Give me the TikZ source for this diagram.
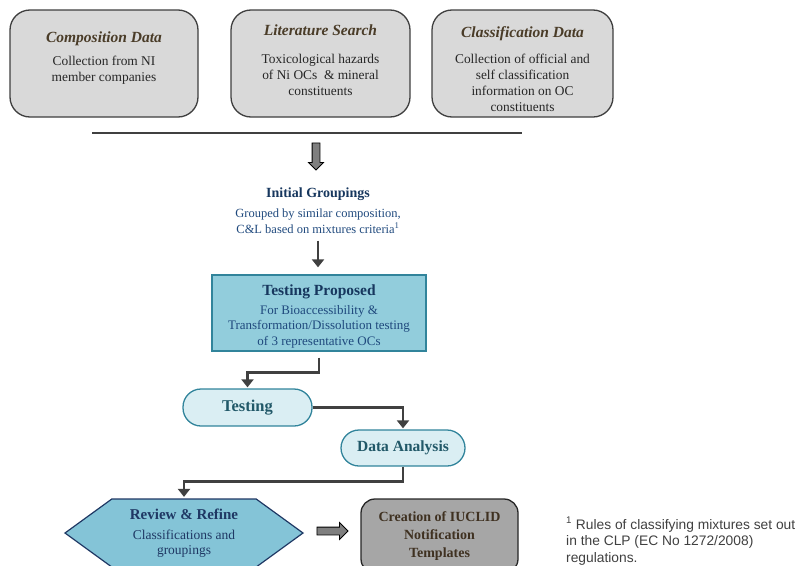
\documentclass[tikz,border=0pt]{standalone}
\usepackage{fontspec}
\setmainfont{Liberation Serif}
\newfontfamily\notefont{Liberation Sans}
\usepackage{xcolor}
\usetikzlibrary{positioning,shapes.arrows,shapes.symbols,arrows.meta}

\definecolor{boxgray}{HTML}{D9D9D9}
\definecolor{boxline}{HTML}{3F3F3F}
\definecolor{titlebrown}{HTML}{4A3C28}
\definecolor{bodydark}{HTML}{262626}
\definecolor{navytext}{HTML}{17375E}
\definecolor{bluetext}{HTML}{1F497D}
\definecolor{tpfill}{HTML}{92CDDC}
\definecolor{tealline}{HTML}{31849B}
\definecolor{stadfill}{HTML}{DAEEF3}
\definecolor{tealtext}{HTML}{215868}
\definecolor{hexfill}{HTML}{84C4D7}
\definecolor{hexline}{HTML}{1F3864}
\definecolor{createfill}{HTML}{A6A6A6}
\definecolor{createtext}{HTML}{3F3121}
\definecolor{flowgray}{HTML}{404040}
\definecolor{arrowgray}{HTML}{7F7F7F}

\newcommand{\boxtitle}[1]{{\fontsize{15.5}{16}\selectfont\bfseries\itshape\color{titlebrown}#1}}

\begin{document}
\begin{tikzpicture}[x=1pt,y=-1pt,
    graybox/.style={draw=boxline,line width=1.3pt,fill=boxgray,rounded corners=20pt,minimum height=107pt},
    boxtext/.style={align=center,text=bodydark,inner sep=0pt,font=\fontsize{13.4}{16}\selectfont},
    blockarrow/.style={single arrow,draw=black,line width=0.8pt,fill=arrowgray,inner sep=3.5pt},
    flowline/.style={draw=flowgray,line width=2.4pt,-{Triangle[width=12pt,length=8pt]}},
    stadium/.style={draw=tealline,line width=1.3pt,fill=stadfill,rounded corners=18pt,text=tealtext,font=\bfseries\fontsize{15.5}{16}\selectfont},
    ]
  \useasboundingbox (0,0) rectangle (799,565);
  \clip (0,0) rectangle (799,565);

  % sources
  \node[graybox,minimum width=188pt] (comp) at (104,63.5) {};
  \node[boxtext,below=22pt of comp.north] (comptxt) {\boxtitle{Composition Data}\\[7pt] Collection from NI\\ member companies};
  \node[graybox,minimum width=179pt] (lit) at (320.5,63.5) {};
  \node[boxtext,below=15pt of lit.north] (littxt) {\boxtitle{Literature Search}\\[12pt] Toxicological hazards\\ of Ni OCs \ \& mineral\\ constituents};
  \node[graybox,minimum width=181pt] (cls) at (522.5,63.5) {};
  \node[boxtext,below=17pt of cls.north] (clstxt) {\boxtitle{Classification Data}\\[10pt] Collection of official and\\ self classification\\ information on OC\\ constituents};

  \coordinate (ruleL) at (92,133);
  \coordinate (ruleR) at (522,133);
  \draw[flowgray,line width=1.3pt] (ruleL) -- (ruleR);
  \node[blockarrow,minimum width=14pt,single arrow head extend=3.5pt,shape border rotate=270,minimum height=27pt] (gather) at (316,154.5) {};

  \node[align=center,inner sep=0pt,text=bluetext,font=\fontsize{12.5}{16}\selectfont] (initgrp) at (318,210.5)
    {{\color{navytext}\bfseries\fontsize{14}{16}\selectfont Initial Groupings}\\[4pt] Grouped by similar composition,\\ C\&L based on mixtures criteria\textsuperscript{1}};

  \node[draw=tealline,line width=1.3pt,fill=tpfill,minimum width=214pt,minimum height=76pt,align=center,inner sep=0pt,
        text=bluetext,font=\fontsize{13}{15.5}\selectfont] (tp) at (319,313)
    {{\color{navytext}\bfseries\fontsize{15.5}{16}\selectfont\rule{0pt}{17pt}Testing Proposed}\\[3.5pt] For Bioaccessibility \&\\ Transformation/Dissolution testing\\ of 3 representative OCs};

  \node[stadium,minimum width=129pt,minimum height=37pt,font=\bfseries\fontsize{16.5}{16}\selectfont] (testing) at (247.5,407.5) {Testing};
  \node[stadium,minimum width=124pt,minimum height=36pt] (data) at (403,448) {Data Analysis};

  \node[signal,signal to=west and east,signal pointer angle=72,draw=hexline,line width=1.2pt,fill=hexfill,
        minimum width=238pt,minimum height=68pt,align=center,text=hexline,font=\fontsize{13.5}{15}\selectfont] (review) at (184,533)
    {{\bfseries\fontsize{15}{16}\selectfont Review \& Refine}\\[5pt] Classifications and\\ groupings};
  \node[blockarrow,minimum width=16pt,single arrow head extend=4.5pt,minimum height=31pt] (tocreate) at (330.5,531) {};
  \node[draw=bodydark,line width=1.3pt,fill=createfill,rounded corners=14pt,minimum width=157pt,minimum height=74pt,
        align=center,text=createtext,font=\bfseries\fontsize{14}{18}\selectfont] (create) at (439.5,536)
    {Creation of IUCLID\\ Notification\\ Templates};

  \node[anchor=north west,align=left,inner sep=0pt,text=flowgray,font=\notefont\fontsize{13.8}{16.5}\selectfont] (note) at (566,517)
    {\textsuperscript{1} Rules of classifying mixtures set out\\ in the CLP (EC No 1272/2008)\\ regulations.};

  % flow
  \draw[flowline,shorten <=7pt,shorten >=7pt] (initgrp.south) -- (initgrp.south |- tp.north);
  \draw[flowline,shorten <=6pt,shorten >=1pt] (tp.south) -- ++(0,21) -| (testing.north);
  \draw[flowline,shorten >=1pt] (testing.east) -| (data.north);
  \draw[flowline,shorten >=1.5pt] (data.south) -- ++(0,15) -| (review.north);
\end{tikzpicture}
\end{document}
